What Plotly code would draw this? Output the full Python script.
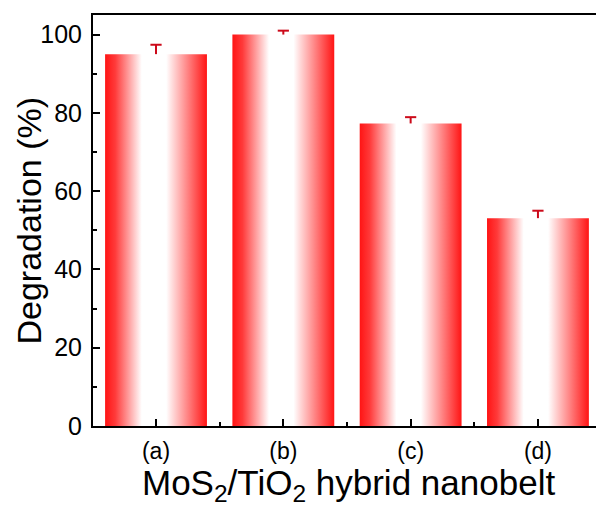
import plotly.graph_objects as go

categories = ["(a)", "(b)", "(c)", "(d)"]
degradation = [95.0, 100.0, 77.3, 53.1]
errors = [2.4, 1.0, 1.6, 1.9]
y_ticks = [0, 20, 40, 60, 80, 100]

RED = "#ff1414"
grad = [[0, RED], [0.1, "#ff3a3a"], [0.36, "#ffffff"], [0.6, "#ffffff"], [1, RED]]
half = 0.4
ERR_COLOR = "#cc0a1a"

fig = go.Figure()
for i, v in enumerate(degradation):
    fig.add_trace(go.Scatter(
        x=[i - half, i + half, i + half, i - half, i - half],
        y=[0, 0, v, v, 0],
        mode="none", fill="toself",
        fillgradient=dict(type="horizontal", colorscale=grad),
        hoverinfo="skip", showlegend=False,
    ))

tops = [v + e for v, e in zip(degradation, errors)]
fig.add_trace(go.Scatter(
    x=list(range(len(categories))), y=tops, mode="markers",
    marker=dict(symbol="line-ew", size=8, color=ERR_COLOR,
                line=dict(color=ERR_COLOR, width=2)),
    error_y=dict(type="data", symmetric=False, array=[0] * len(errors),
                 arrayminus=errors, color=ERR_COLOR, thickness=2, width=0),
    showlegend=False,
))

fig.update_layout(
    width=596, height=506,
    margin=dict(l=93, r=0, t=15, b=80),
    plot_bgcolor="white", paper_bgcolor="white",
    font=dict(family="Liberation Sans, Arial, sans-serif", color="black"),
    xaxis=dict(
        range=[-0.495, 3.456], tickmode="array",
        tickvals=list(range(len(categories))), ticktext=categories,
        ticks="inside", ticklen=7, tickwidth=1.5, tickcolor="black",
        minor=dict(tickvals=[0.5, 1.5, 2.5], ticks="inside", ticklen=4,
                   tickwidth=1.5, tickcolor="black"),
        showline=True, linecolor="black", linewidth=2, mirror=True,
        showgrid=False, zeroline=False,
        tickfont=dict(size=23), ticklabelstandoff=3,
    ),
    yaxis=dict(
        range=[0, 105], tickmode="array", tickvals=y_ticks,
        ticks="inside", ticklen=7, tickwidth=1.5, tickcolor="black",
        minor=dict(tickvals=[10, 30, 50, 70, 90], ticks="inside", ticklen=4,
                   tickwidth=1.5, tickcolor="black"),
        showline=True, linecolor="black", linewidth=2, mirror=False,
        showgrid=False, zeroline=False,
        tickfont=dict(size=25), ticklabelstandoff=4,
    ),
    annotations=[
        dict(text="Degradation (%)", textangle=-90, showarrow=False,
             xref="paper", yref="paper", x=0, y=0.5,
             xanchor="center", yanchor="middle", xshift=-65,
             font=dict(size=34)),
        dict(text="MoS<sub>2</sub>/TiO<sub>2</sub> hybrid nanobelt",
             showarrow=False, xref="paper", yref="paper", x=0.5, y=0,
             xanchor="center", yanchor="top", yshift=-35,
             xshift=(348 - 344.5), font=dict(size=35)),
    ],
)

fig.write_html("out.html")
